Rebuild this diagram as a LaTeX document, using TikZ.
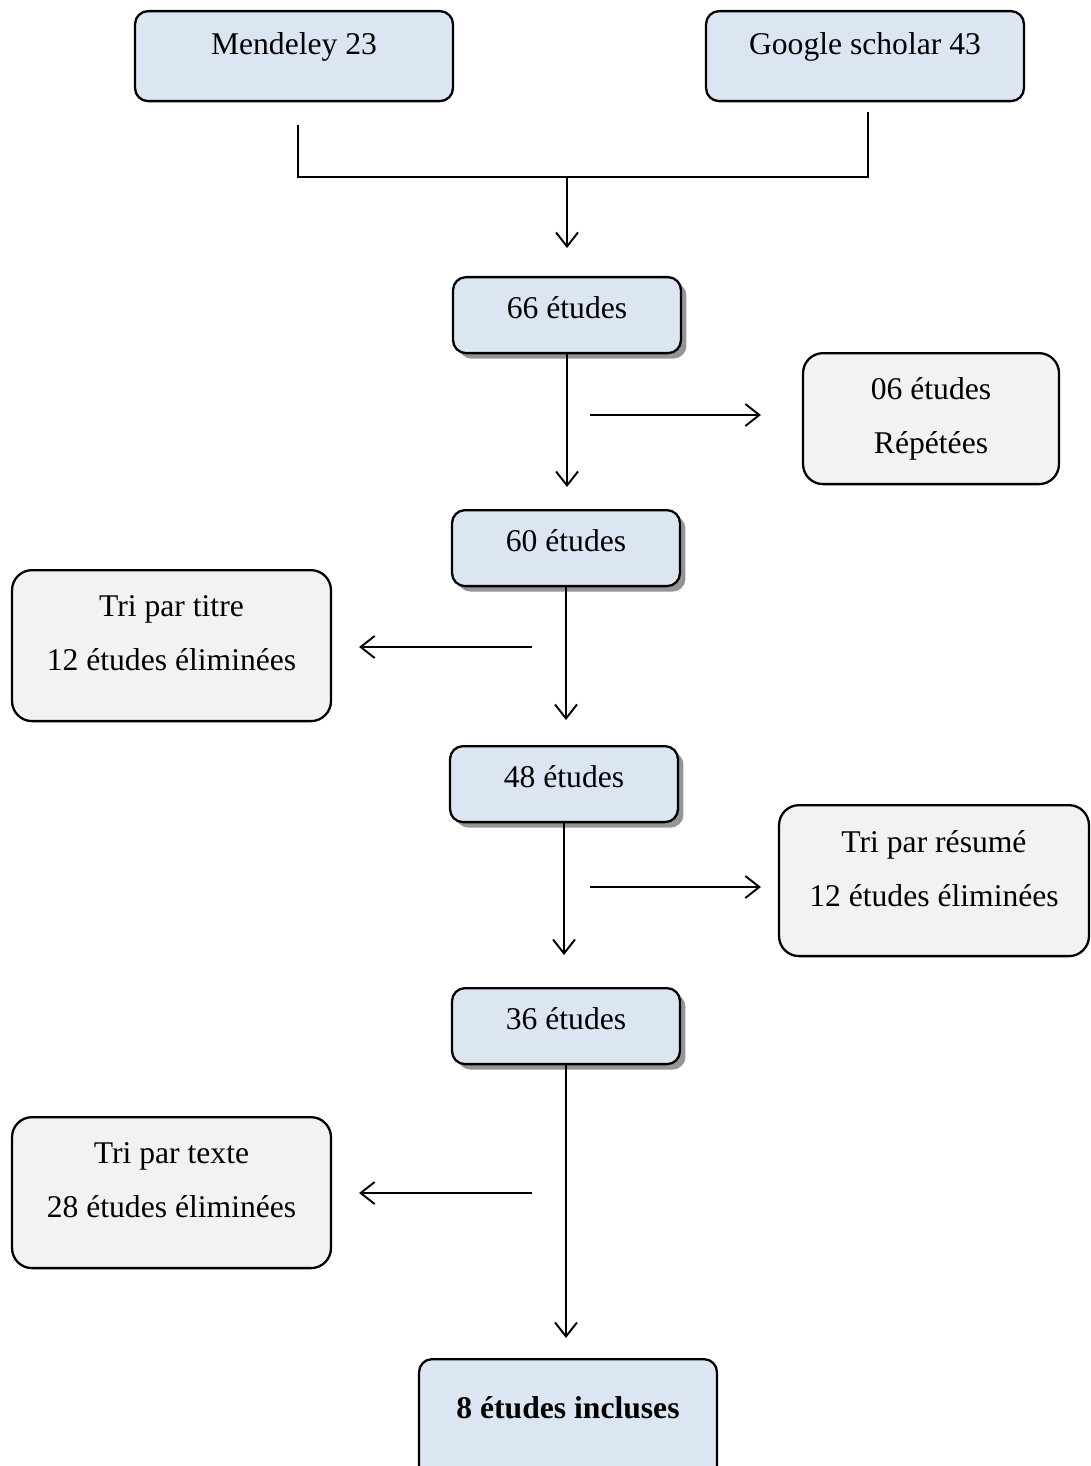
\documentclass[tikz,border=0pt]{standalone}
\usepackage{fontspec}
\setmainfont{Liberation Serif}
\usepackage{xcolor}
\usetikzlibrary{positioning}
\usetikzlibrary{arrows.meta}
\usetikzlibrary{shadows}

\definecolor{boxblue}{HTML}{DCE6F2}
\definecolor{boxgray}{HTML}{F2F2F2}
\definecolor{shadowgray}{HTML}{959595}

\begin{document}
\begin{tikzpicture}[x=0.02cm, y=-0.02cm,
  every node/.style={font=\fontsize{18pt}{30.6pt}\selectfont, inner sep=0pt, align=center, anchor=north, line width=1.3pt},
  base/.style={draw, rounded corners=0.26cm, fill=boxblue},
  src/.style={base, minimum width=6.36cm, text height=0.86cm, text depth=0.94cm},
  count/.style={base, minimum width=4.56cm, text height=0.82cm, text depth=0.7cm,
    general shadow={fill=shadowgray, shadow xshift=0.11cm, shadow yshift=-0.11cm}},
  cut/.style={draw, rounded corners=0.4cm, fill=boxgray, text height=2.0cm},
  arr/.style={-{Straight Barb[length=0.28cm,width=0.44cm]}, line width=1.1pt}]

\useasboundingbox (0,0) rectangle (1090,1466);

% sources
\node[src] (mendeley) at (294,10) {Mendeley 23};
\node[src] (google) at (865,10) {Google scholar 43};

\coordinate (m0) at (298,125);
\coordinate (g0) at (868,112);
\coordinate (j) at (567,177);
\draw[line width=1.1pt] (m0) |- (j) -| (g0);

% selection
\node[count] (n66) at (567,276) {66 études};
\node[count] (n60) at (566,509) {60 études};
\node[count] (n48) at (564,745) {48 études};
\node[count] (n36) at (566,987) {36 études};
\node[base, minimum width=5.96cm, text height=1.18cm, text depth=1.22cm, font=\fontsize{18pt}{30.6pt}\selectfont\bfseries] (final) at (568,1358) {8 études incluses};

% exclusions
\node[cut, minimum width=5.12cm, text depth=0.62cm] (rep) at (931,352) {06 études\\Répétées};
\node[cut, minimum width=6.38cm, text depth=1.02cm] (titre) at (171.5,569) {Tri par titre\\12 études éliminées};
\node[cut, minimum width=6.2cm, text height=2.02cm, text depth=1.0cm] (resume) at (934,804) {Tri par résumé\\12 études éliminées};
\node[cut, minimum width=6.38cm, text depth=1.02cm] (texte) at (171.5,1116) {Tri par texte\\28 études éliminées};

% arrows
\draw[arr, shorten >=0.56cm] (j) -- (j |- n66.north);
\draw[arr, shorten >=0.44cm] (n66.south) -- (n66.south |- n60.north);
\draw[arr, shorten >=0.5cm] (n60.south) -- (n60.south |- n48.north);
\draw[arr, shorten >=0.64cm] (n48.south) -- (n48.south |- n36.north);
\draw[arr, shorten >=0.4cm] (n36.south) -- (n36.south |- final.north);

\coordinate (s1) at (590,415);
\coordinate (s2) at (532,647);
\coordinate (s3) at (590,887);
\coordinate (s4) at (532,1193);
\draw[arr, shorten >=0.82cm] (s1) -- (s1 -| rep.west);
\draw[arr, shorten >=0.54cm] (s2) -- (s2 -| titre.east);
\draw[arr, shorten >=0.34cm] (s3) -- (s3 -| resume.west);
\draw[arr, shorten >=0.54cm] (s4) -- (s4 -| texte.east);

\end{tikzpicture}
\end{document}
